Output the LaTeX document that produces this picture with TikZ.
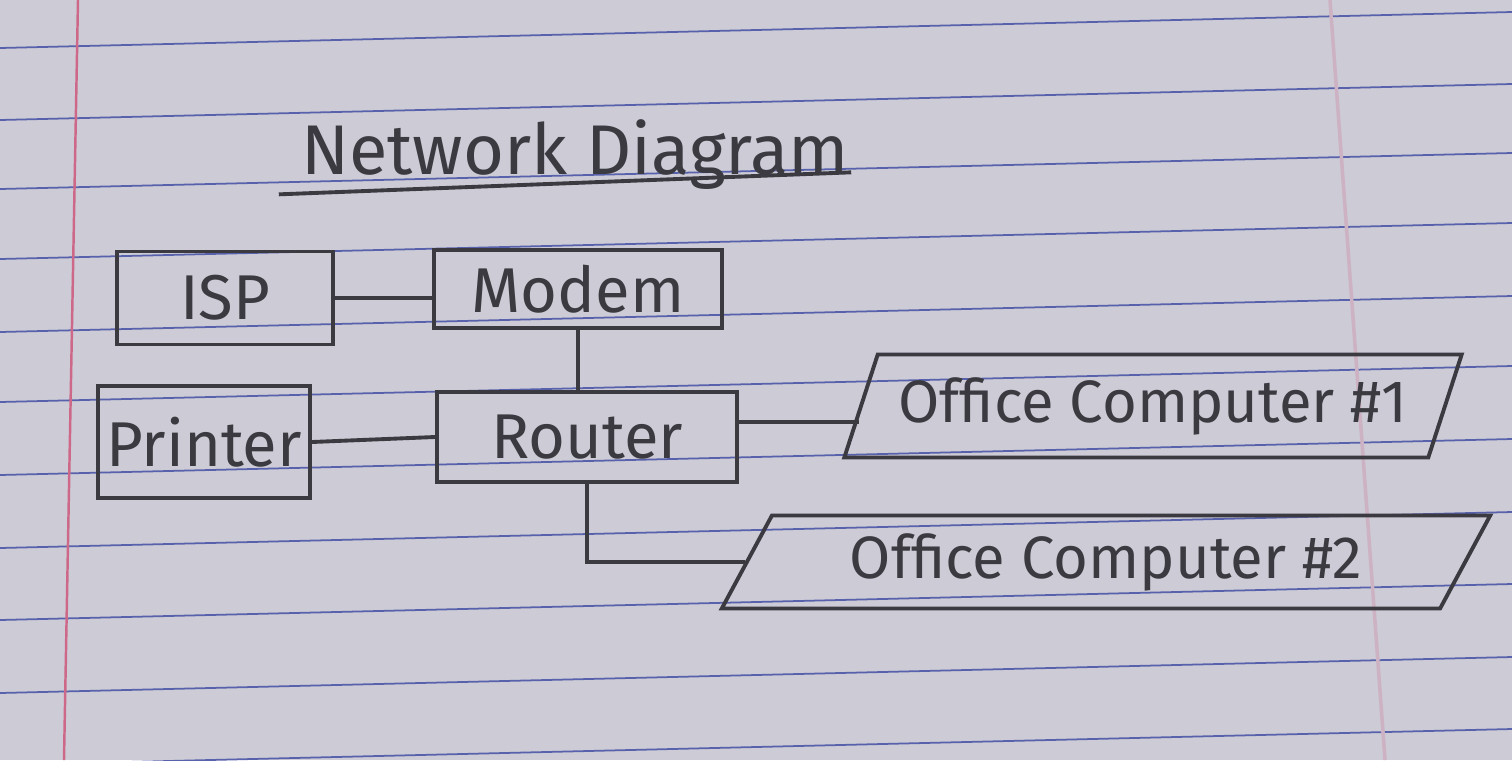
\documentclass[tikz,border=0pt]{standalone}
\usepackage{fontspec}
\setsansfont{Fira Sans}
\usetikzlibrary{positioning,shapes.geometric,calc}
\definecolor{paper}{RGB}{204,203,214}
\definecolor{rule}{RGB}{88,98,172}
\definecolor{margin}{RGB}{206,104,136}
\definecolor{pencil}{RGB}{58,58,64}
\tikzset{devbox/.style = {rectangle, draw=pencil, line width=1.1pt, inner sep=2pt, text=pencil,
    font=\sffamily\fontsize{18}{22}\selectfont},
  pcbox/.style = {devbox, trapezium, trapezium stretches body,
    font=\sffamily\fontsize{17}{21}\selectfont},
  wire/.style = {draw=pencil, line width=1.1pt}}

\begin{document}
\begin{tikzpicture}[x=0.01cm,y=-0.01cm]

  % the sheet of paper
  \useasboundingbox (0,0) rectangle (1512,760);
  \fill[paper] (0,0) rectangle (1512,760);
  \foreach \y in {48,120,189,259,332,402,475,548,620,693,765}
  \draw[rule,line width=0.5pt] (0,\y) -- (1512,\y-36);
  \draw[margin,line width=0.7pt] (78,0) -- (64,760);
  \draw[margin!25!paper,line width=1pt] (1330,0) -- (1385,760);

  % the title
  \node[text=pencil,font=\sffamily\fontsize{20}{24}\selectfont] (title) at (575,155) {Network Diagram};
  \draw[wire] ([xshift=-0.1cm,yshift=0.08cm]title.south west) -- ([xshift=-0.1cm,yshift=0.3cm]title.south east);

  % the devices
  \node[devbox,minimum width=2.16cm,minimum height=0.93cm] (isp) at (225,298) {ISP};
  \node[devbox,minimum width=2.87cm,minimum height=0.78cm] (modem) at (578,289) {Modem};
  \node[devbox,minimum width=2.12cm,minimum height=1.12cm] (printer) at (204,442) {Printer};
  \node[devbox,minimum width=3.00cm,minimum height=0.90cm] (router) at (587,437) {Router};
  \node[pcbox,trapezium left angle=65,trapezium right angle=115,
    minimum width=6.17cm,minimum height=1.03cm] (pc1) at (1153,406) {Office Computer \#1};
  \node[pcbox,trapezium left angle=55,trapezium right angle=125,
    minimum width=7.68cm,minimum height=0.93cm] (pc2) at (1106,562) {Office Computer \#2};

  % the cables
  \draw[wire] (isp.east) -- (isp.east -| modem.west);
  \draw[wire] (modem.south) -- (modem.south |- router.north);
  \draw[wire] (printer.east) -- (router.west);
  \draw[wire] ([yshift=0.15cm]router.east) -- ([yshift=0.15cm]router.east -| pc1.west);
  \draw[wire] (router.south) |- (pc2.west);
\end{tikzpicture}
\end{document}
